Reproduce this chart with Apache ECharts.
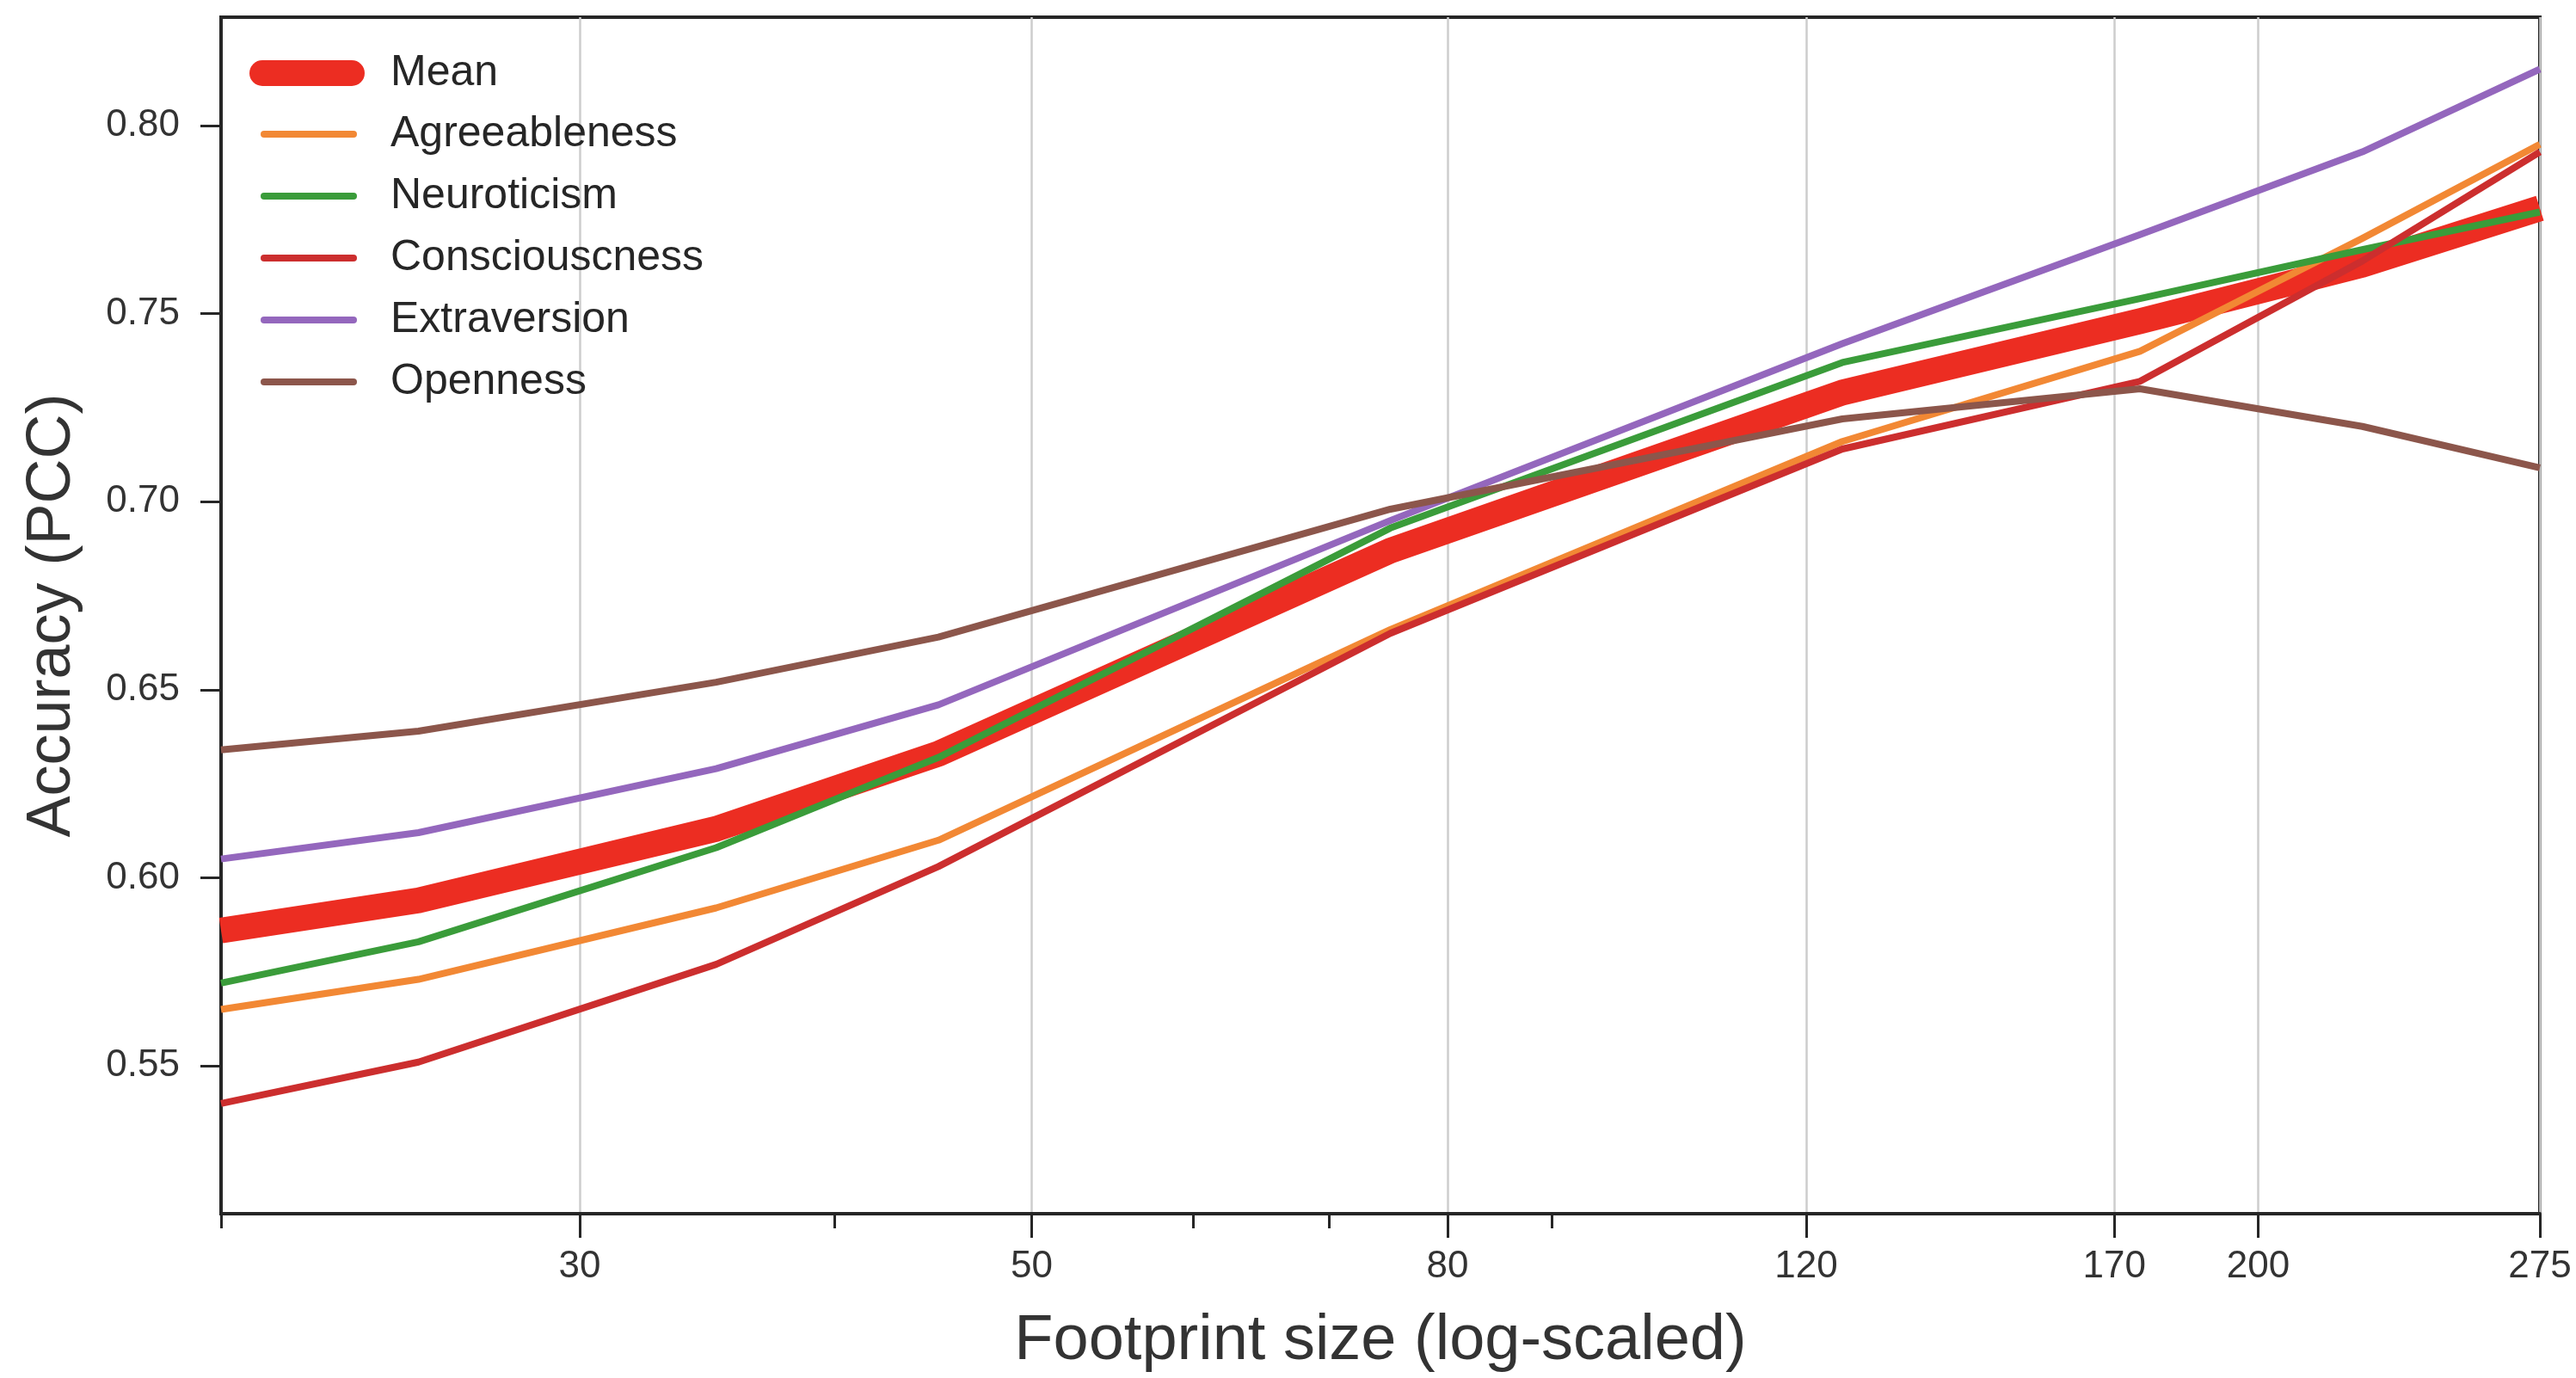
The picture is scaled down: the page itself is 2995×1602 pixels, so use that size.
<!DOCTYPE html>
<html>
<head>
<meta charset="utf-8">
<script src="https://cdn.jsdelivr.net/npm/echarts@6/dist/echarts.min.js"></script>
<style>
html,body{margin:0;padding:0;background:#fff;}
#chart{width:2995px;height:1602px;}
</style>
</head>
<body>
<div id="chart"></div>
<script>
// ---- data ----
const footprintSizes = [20, 25, 35, 45, 75, 125, 175, 225, 275];
const meanAcc          = [0.586, 0.594, 0.613, 0.633, 0.687, 0.729, 0.748, 0.763, 0.778];
const agreeablenessAcc = [0.565, 0.573, 0.592, 0.610, 0.666, 0.716, 0.740, 0.770, 0.795];
const neuroticismAcc   = [0.572, 0.583, 0.608, 0.632, 0.693, 0.737, 0.754, 0.767, 0.777];
const consciousnessAcc = [0.540, 0.551, 0.577, 0.603, 0.665, 0.714, 0.732, 0.764, 0.793];
const extraversionAcc  = [0.605, 0.612, 0.629, 0.646, 0.695, 0.742, 0.771, 0.793, 0.815];
const opennessAcc      = [0.634, 0.639, 0.652, 0.664, 0.698, 0.722, 0.730, 0.720, 0.709];

const seriesNames = ['Mean', 'Agreeableness', 'Neuroticism', 'Consciouscness', 'Extraversion', 'Openness'];
const xTickValues = [30, 50, 80, 120, 170, 200, 275];
const xMinorTickValues = [20, 40, 60, 70, 90];
const yTickValues = [0.55, 0.60, 0.65, 0.70, 0.75, 0.80];

// ---- styling ----
const colors = {
  'Mean': '#ec2d22',
  'Agreeableness': '#f28834',
  'Neuroticism': '#3a9c3a',
  'Consciouscness': '#cc2e2e',
  'Extraversion': '#9467bd',
  'Openness': '#8c564b'
};
const FONT = 'Liberation Sans, Arial, sans-serif';
const TXT = '#262626';

const allValues = [meanAcc, agreeablenessAcc, neuroticismAcc, consciousnessAcc, extraversionAcc, opennessAcc];

const series = seriesNames.map((name, k) => ({
  name: name,
  type: 'line',
  xAxisIndex: 0,
  data: footprintSizes.map((s, i) => [s, allValues[k][i]]),
  showSymbol: false,
  symbol: 'none',
  smooth: false,
  clip: true,
  color: colors[name],
  lineStyle: {
    color: colors[name],
    width: name === 'Mean' ? 30 : 8,
    cap: 'butt',
    join: 'round'
  },
  z: 2 + k
}));

const widePill = 'path://M15,0 H119 A15,15 0 0 1 119,30 H15 A15,15 0 0 1 15,0 Z';
const thinPill = 'path://M4,0 H108 A4,4 0 0 1 108,8 H4 A4,4 0 0 1 4,0 Z';

const option = {
  animation: false,
  backgroundColor: '#ffffff',
  textStyle: { fontFamily: FONT },
  grid: {
    left: 257, right: 42, top: 20, bottom: 191,
    show: true, borderColor: '#262626', borderWidth: 4,
    backgroundColor: 'transparent', containLabel: false
  },
  legend: [
    {
      data: [{ name: 'Mean', icon: widePill }],
      orient: 'vertical', left: 290, top: 60, padding: 0,
      itemWidth: 134, itemHeight: 30,
      itemStyle: { borderWidth: 0 },
      textStyle: { fontSize: 50, color: TXT, fontFamily: FONT, padding: [0, 0, 0, 25] },
      selectedMode: false
    },
    {
      data: seriesNames.slice(1).map(n => ({ name: n, icon: thinPill })),
      orient: 'vertical', left: 303, top: 131, padding: 0,
      itemWidth: 112, itemHeight: 8, itemGap: 22,
      itemStyle: { borderWidth: 0 },
      textStyle: { fontSize: 50, color: TXT, fontFamily: FONT, padding: [0, 0, 0, 34] },
      selectedMode: false
    }
  ],
  xAxis: [
    {
      type: 'log', logBase: 10, min: 20, max: 275, position: 'bottom',
      name: 'Footprint size (log-scaled)', nameLocation: 'middle', nameGap: 112,
      nameTextStyle: { fontSize: 74, color: '#333333', fontFamily: FONT },
      axisLine: { show: true, lineStyle: { color: '#262626', width: 4 } },
      axisTick: { show: true, customValues: xTickValues, length: 28, lineStyle: { color: '#262626', width: 3 } },
      axisLabel: { show: true, customValues: xTickValues, fontSize: 44, color: '#333333', margin: 40, fontFamily: FONT,
                   formatter: v => String(v) },
      splitLine: { show: true, lineStyle: { color: '#cdcdcd', width: 2.5 } },
      minorTick: { show: false }
    },
    {
      type: 'log', logBase: 10, min: 20, max: 275, position: 'bottom',
      axisLine: { show: false },
      axisTick: { show: true, customValues: xMinorTickValues, length: 17, lineStyle: { color: '#262626', width: 3 } },
      axisLabel: { show: false },
      splitLine: { show: false }
    }
  ],
  yAxis: {
    type: 'value', min: 0.5107, max: 0.8288,
    name: 'Accuracy (PCC)', nameLocation: 'middle', nameGap: 160,
    nameTextStyle: { fontSize: 72, color: '#333333', fontFamily: FONT },
    axisLine: { show: true, lineStyle: { color: '#262626', width: 4 } },
    axisTick: { show: true, customValues: yTickValues, length: 24, lineStyle: { color: '#262626', width: 3 } },
    axisLabel: { show: true, customValues: yTickValues, fontSize: 44, color: '#333333', margin: 48, fontFamily: FONT,
                 formatter: v => Number(v).toFixed(2) },
    splitLine: { show: false }
  },
  series: series
};

const chart = echarts.init(document.getElementById('chart'), null, { renderer: 'canvas' });
chart.setOption(option);
</script>
</body>
</html>
